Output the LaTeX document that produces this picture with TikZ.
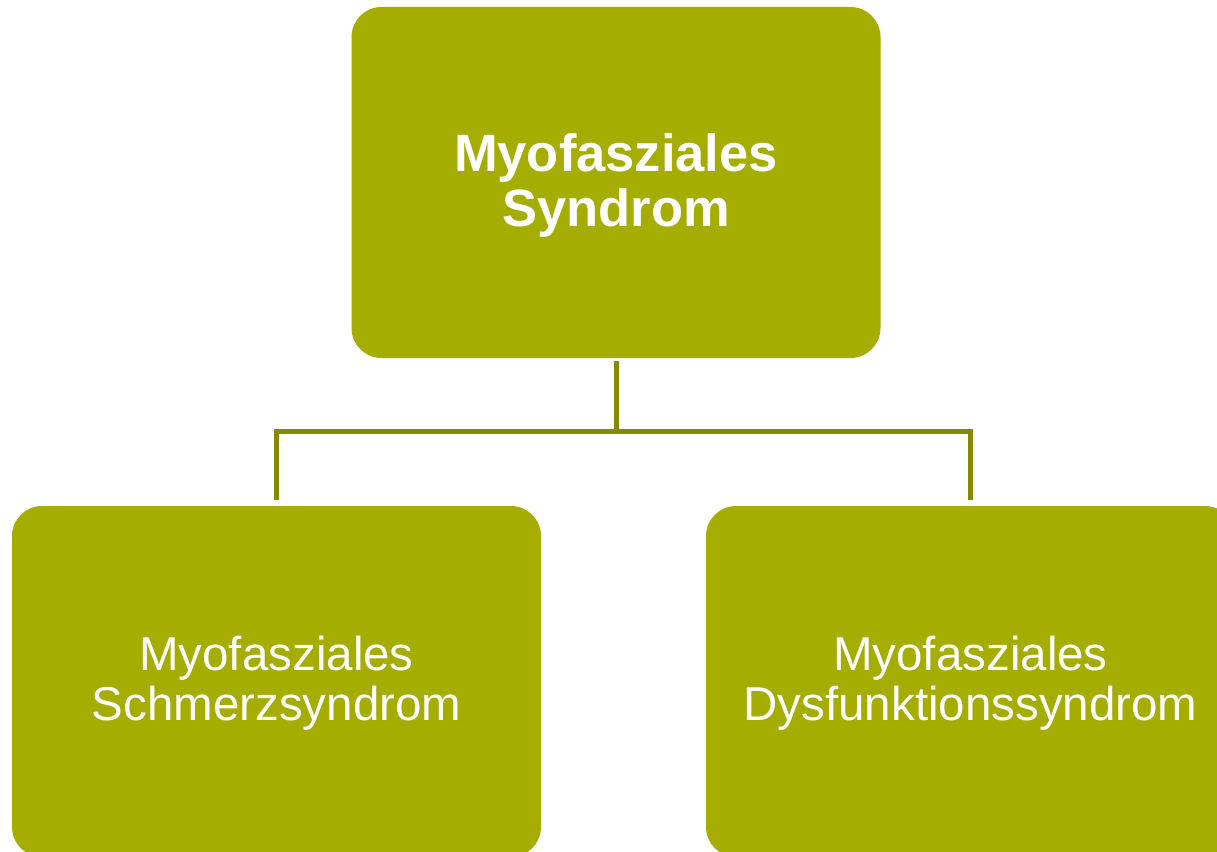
\documentclass[tikz,border=0pt]{standalone}
\usepackage{fontspec}
\setmainfont{Liberation Sans}
\definecolor{boxfill}{HTML}{A4AD00}
\definecolor{linecol}{HTML}{868A00}
\begin{document}
\begin{tikzpicture}[x=1pt,y=-1pt,
  card/.style={rectangle, rounded corners=30pt, fill=boxfill,
    minimum width=529pt, minimum height=351pt, inner sep=0pt},
  label/.style={text=white, inner sep=0pt, align=center},
  headtext/.style={label, font=\fontsize{52.5}{55}\selectfont\bfseries},
  subtext/.style={label, font=\fontsize{47.5}{50}\selectfont},
  conn/.style={draw=linecol, line width=5pt}]
\useasboundingbox (0,0) rectangle (1217,851);
\clip (0,0) rectangle (1217,851);
\node[card] (top) at (616,182.5) {};
\node[card] (left) at (276.5,681.5) {};
\node[card] (right) at (970.5,681.5) {};
\node[headtext] (toptext) at ([yshift=-3pt]top.center) {Myofasziales\\Syndrom};
\node[subtext] (lefttext) at ([yshift=-2pt]left.center) {Myofasziales\\Schmerzsyndrom};
\node[subtext] (righttext) at ([yshift=-2pt]right.center) {Myofasziales\\Dysfunktionssyndrom};
\coordinate (hub) at (616,431.5);
\draw[conn, shorten <=3pt] (top.south) -- (hub);
\draw[conn, shorten >=6pt] (hub) -| (left.north);
\draw[conn, shorten >=6pt] (hub) -| (right.north);
\end{tikzpicture}
\end{document}
